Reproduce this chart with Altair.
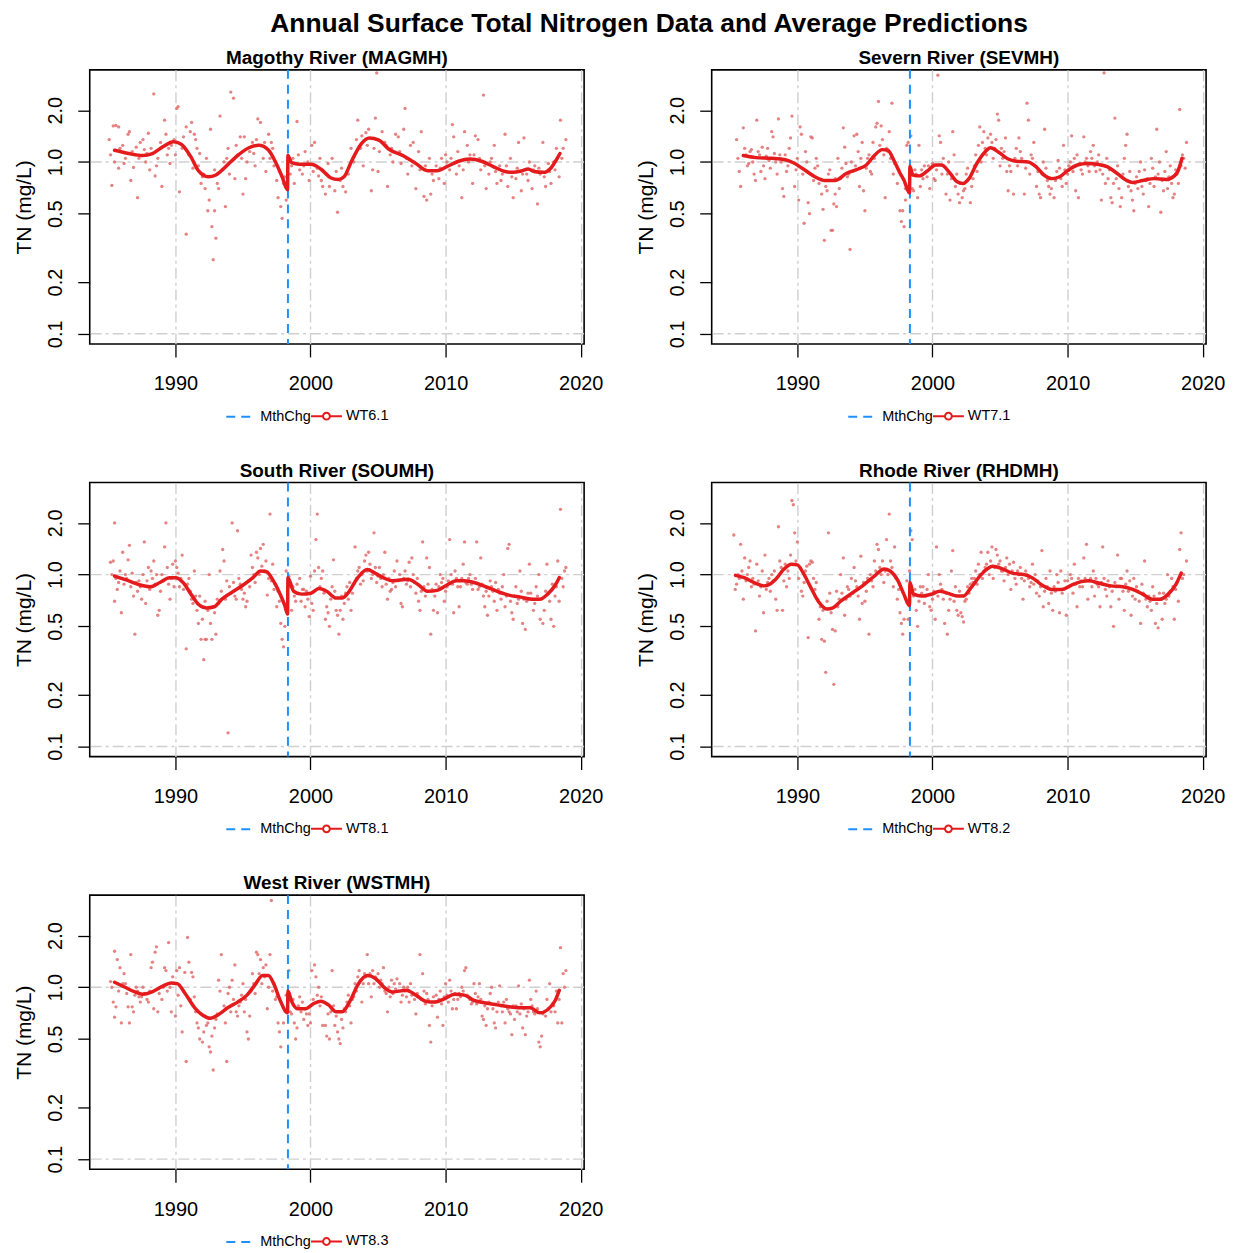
import altair as alt
import pandas as pd

FONT = "Liberation Sans"

MAIN_TITLE = "Annual Surface Total Nitrogen Data and Average Predictions"
PANEL_TITLES = ["Magothy River (MAGMH)", "Severn River (SEVMH)", "South River (SOUMH)",
                "Rhode River (RHDMH)", "West River (WSTMH)"]
WT_LABELS = ["WT6.1", "WT7.1", "WT8.1", "WT8.2", "WT8.3"]
MTH_LABEL = "MthChg"
METHOD_CHANGE_YEAR = [1998.33]
X_TICKS = [1990, 2000, 2010, 2020]
Y_TICKS = [0.1, 0.2, 0.5, 1.0, 2.0]
Y_REF_LINES = [0.1, 1.0]
X_DOMAIN = [1983.66, 2020.25]
Y_DOMAIN = [0.0873, 3.437]

# ---------------- observed data (year, TN mg/L) ----------------
MAG_POINTS = [
    (1985.1, 1.35), (1985.3, 0.73), (1985.4, 1.62), (1985.6, 1.63), (1985.8, 1.6), (1985.5, 1.0), (1985.8, 0.92),
    (1986.1, 1.25), (1986.3, 1.05), (1986.5, 1.45), (1986.6, 1.5), (1986.7, 0.78), (1986.9, 0.93), (1987.1, 1.22),
    (1987.2, 0.62), (1987.4, 1.3), (1987.6, 1.35), (1987.8, 1.0), (1987.9, 1.12), (1988.0, 1.47), (1988.1, 0.9),
    (1988.2, 1.2), (1988.4, 2.49), (1988.5, 0.83), (1988.7, 1.05), (1988.9, 1.3), (1989.0, 0.72), (1989.2, 1.75),
    (1989.4, 1.1), (1989.5, 1.2), (1989.7, 1.25), (1989.9, 1.35), (1990.1, 2.05), (1990.2, 2.1), (1990.3, 0.67),
    (1990.5, 1.2), (1990.8, 1.6), (1990.8, 0.38), (1991.1, 1.5), (1991.2, 1.7), (1991.4, 1.45), (1991.5, 1.35),
    (1991.6, 1.2), (1991.7, 0.95), (1991.9, 0.75), (1992.0, 0.82), (1992.2, 0.7), (1992.3, 1.05), (1992.4, 0.52),
    (1992.5, 0.6), (1992.6, 1.55), (1992.7, 0.42), (1992.8, 0.27), (1992.9, 0.52), (1993.0, 0.36), (1993.1, 0.75),
    (1993.3, 1.85), (1993.5, 0.9), (1993.7, 0.55), (1993.8, 1.05), (1993.9, 1.2), (1994.1, 2.55), (1994.3, 2.35),
    (1994.4, 0.8), (1994.6, 1.1), (1994.8, 1.4), (1995.0, 0.65), (1995.2, 0.8), (1995.3, 1.0), (1995.5, 1.15),
    (1995.7, 1.3), (1995.9, 0.95), (1996.1, 1.78), (1996.3, 1.7), (1996.5, 1.05), (1996.7, 0.88), (1996.9, 1.45),
    (1997.1, 1.3), (1997.3, 0.95), (1997.5, 0.78), (1997.6, 0.62), (1997.8, 0.55), (1997.9, 0.47), (1998.0, 0.75),
    (1998.2, 0.6), (1998.5, 0.85), (1998.6, 0.95), (1998.8, 0.75), (1999.0, 1.72), (1999.2, 0.9), (1999.4, 0.85),
    (1999.6, 1.15), (1999.8, 1.0), (1999.9, 0.78), (2000.1, 1.25), (2000.3, 1.3), (2000.5, 0.92), (2000.6, 0.83),
    (2000.8, 0.78), (2000.9, 0.72), (2001.1, 0.65), (2001.3, 0.98), (2001.4, 0.72), (2001.6, 1.05), (2001.8, 0.68),
    (2002.0, 0.51), (2002.2, 0.78), (2002.3, 0.92), (2002.6, 0.67), (2002.8, 0.85), (2003.0, 1.2), (2003.2, 1.0),
    (2003.5, 1.75), (2003.7, 1.2), (2003.9, 0.95), (2004.1, 1.48), (2004.3, 1.55), (2004.5, 0.68), (2004.6, 0.9),
    (2004.8, 1.8), (2004.9, 3.3), (2005.0, 0.88), (2005.3, 1.5), (2005.5, 1.3), (2005.7, 0.72), (2005.9, 1.1),
    (2006.1, 1.0), (2006.3, 1.45), (2006.5, 1.4), (2006.7, 0.98), (2006.9, 1.55), (2007.0, 2.05), (2007.2, 0.85),
    (2007.4, 1.25), (2007.6, 1.3), (2007.8, 0.7), (2008.0, 1.15), (2008.2, 1.5), (2008.4, 0.63), (2008.6, 0.6),
    (2008.8, 1.05), (2008.9, 0.65), (2009.1, 0.78), (2009.3, 0.95), (2009.5, 0.8), (2009.7, 1.05), (2009.9, 0.75),
    (2010.1, 1.0), (2010.3, 0.9), (2010.5, 1.65), (2010.6, 1.4), (2010.8, 0.85), (2011.0, 0.95), (2011.2, 0.62),
    (2011.4, 1.5), (2011.6, 1.25), (2011.8, 1.1), (2012.0, 0.75), (2012.2, 1.42), (2012.4, 1.35), (2012.6, 0.9),
    (2012.8, 2.45), (2013.0, 0.7), (2013.2, 0.85), (2013.4, 1.05), (2013.6, 1.25), (2013.8, 0.75), (2014.0, 0.95),
    (2014.2, 0.85), (2014.4, 1.45), (2014.6, 0.72), (2014.8, 1.05), (2015.0, 0.62), (2015.2, 0.8), (2015.4, 1.3),
    (2015.6, 0.68), (2015.8, 1.38), (2016.0, 0.85), (2016.2, 1.0), (2016.4, 0.7), (2016.6, 0.95), (2016.8, 0.57),
    (2017.0, 0.85), (2017.2, 1.3), (2017.4, 0.72), (2017.6, 0.98), (2017.8, 0.75), (2018.0, 1.0), (2018.2, 1.2),
    (2018.4, 0.82), (2018.5, 1.75), (2018.7, 1.2), (2018.9, 1.35),
]
MAG_POINTS_EXTRA = [
    (1985.2, 1.1), (1985.9, 1.2), (1986.2, 0.98), (1986.8, 1.15), (1987.3, 1.05), (1987.7, 1.18), (1988.6, 0.95),
    (1989.3, 1.45), (1989.6, 0.98), (1990.0, 1.1), (1990.6, 1.4), (1991.0, 1.1), (1991.3, 0.92), (1991.8, 1.12),
    (1992.1, 0.85), (1992.9, 0.9), (1993.2, 0.7), (1993.6, 1.0), (1994.0, 0.85), (1994.5, 1.25), (1994.9, 1.05),
    (1995.1, 1.4), (1995.8, 1.12), (1996.0, 1.35), (1996.6, 1.3), (1997.0, 1.05), (1997.2, 1.2), (1997.7, 0.88),
    (1998.1, 0.82), (1998.7, 1.05), (1999.1, 1.1), (1999.5, 0.95), (2000.2, 0.88), (2000.7, 1.05), (2001.2, 0.85),
    (2001.9, 0.88), (2002.4, 0.72), (2002.9, 0.95), (2003.4, 1.35), (2003.8, 1.42), (2004.2, 1.25), (2004.7, 1.2),
    (2005.1, 1.15), (2005.6, 1.25), (2006.0, 1.2), (2006.6, 1.15), (2007.1, 1.05), (2007.5, 0.95), (2008.1, 0.9),
    (2008.5, 0.95), (2009.0, 0.85), (2009.6, 0.92), (2010.0, 1.1), (2010.4, 1.05), (2010.9, 1.15), (2011.3, 0.9),
    (2011.7, 1.0), (2012.1, 1.1), (2012.5, 1.05), (2012.9, 0.95), (2013.3, 1.0), (2013.7, 0.88), (2014.1, 0.78),
    (2014.5, 0.95), (2014.9, 0.82), (2015.3, 0.92), (2015.7, 0.85), (2016.1, 0.78), (2016.5, 0.9), (2016.9, 0.92),
    (2017.3, 0.82), (2017.7, 0.88), (2018.1, 0.9), (2018.6, 1.05),
]

SEV_POINTS = [
    (1985.5, 1.35), (1985.7, 0.88), (1985.8, 0.72), (1986.0, 1.58), (1986.2, 1.1), (1986.3, 0.95), (1986.5, 1.15),
    (1986.6, 1.18), (1986.8, 0.85), (1986.9, 0.78), (1987.0, 1.75), (1987.1, 1.15), (1987.3, 0.88), (1987.4, 1.22),
    (1987.6, 0.8), (1987.7, 1.08), (1987.9, 1.02), (1988.0, 0.92), (1988.1, 1.5), (1988.2, 1.4), (1988.4, 1.0),
    (1988.5, 0.85), (1988.6, 1.78), (1988.7, 1.1), (1988.9, 0.7), (1989.0, 0.63), (1989.1, 1.1), (1989.3, 0.95),
    (1989.5, 1.38), (1989.6, 1.85), (1989.8, 0.72), (1990.0, 1.05), (1990.1, 0.6), (1990.2, 1.6), (1990.3, 1.45),
    (1990.5, 0.44), (1990.7, 1.0), (1990.8, 0.58), (1990.9, 0.5), (1991.0, 1.4), (1991.1, 1.38), (1991.3, 0.92),
    (1991.4, 1.05), (1991.6, 0.75), (1991.8, 0.65), (1991.9, 0.53), (1992.0, 0.35), (1992.1, 0.72), (1992.3, 0.85),
    (1992.4, 0.9), (1992.5, 0.4), (1992.6, 0.4), (1992.7, 0.57), (1992.8, 0.65), (1992.9, 0.55), (1993.0, 1.05),
    (1993.2, 0.8), (1993.4, 1.58), (1993.5, 1.22), (1993.7, 0.82), (1993.8, 0.85), (1993.9, 0.31), (1994.0, 1.0),
    (1994.2, 1.42), (1994.4, 1.45), (1994.5, 1.15), (1994.6, 0.72), (1994.8, 1.3), (1994.9, 0.68), (1995.0, 0.52),
    (1995.2, 1.05), (1995.4, 0.88), (1995.5, 0.85), (1995.6, 1.3), (1995.8, 1.6), (1995.9, 1.68), (1996.0, 2.25),
    (1996.2, 1.62), (1996.4, 1.1), (1996.5, 0.62), (1996.7, 1.15), (1996.8, 1.5), (1997.0, 2.2), (1997.2, 0.98),
    (1997.4, 0.75), (1997.6, 0.52), (1997.7, 0.45), (1997.8, 0.52), (1997.9, 0.42), (1998.0, 0.7), (1998.1, 1.25),
    (1998.2, 1.3), (1998.4, 1.42), (1998.5, 0.7), (1998.6, 0.68), (1998.8, 0.85), (1998.9, 0.62), (1999.0, 1.25),
    (1999.2, 0.9), (1999.4, 0.95), (1999.6, 0.82), (1999.8, 0.7), (2000.0, 0.98), (2000.1, 0.8), (2000.2, 0.78),
    (2000.4, 3.2), (2000.5, 1.42), (2000.6, 1.3), (2000.8, 1.05), (2001.0, 0.65), (2001.1, 0.85), (2001.3, 0.6),
    (2001.5, 1.5), (2001.6, 1.1), (2001.7, 0.72), (2001.9, 0.65), (2002.0, 0.58), (2002.2, 0.62), (2002.3, 0.68),
    (2002.5, 0.85), (2002.6, 0.92), (2002.8, 0.58), (2003.0, 0.8), (2003.2, 1.1), (2003.4, 1.25), (2003.5, 1.6),
    (2003.6, 1.0), (2003.8, 1.5), (2003.9, 1.2), (2004.1, 1.38), (2004.3, 1.45), (2004.4, 1.3), (2004.6, 1.2),
    (2004.8, 1.9), (2004.9, 1.75), (2005.0, 0.95), (2005.2, 1.05), (2005.4, 1.38), (2005.5, 0.88), (2005.6, 0.68),
    (2005.8, 0.88), (2006.0, 0.65), (2006.2, 1.2), (2006.4, 1.38), (2006.6, 1.05), (2006.8, 0.65), (2007.0, 2.2),
    (2007.1, 1.75), (2007.2, 0.85), (2007.4, 1.05), (2007.5, 1.3), (2007.7, 0.72), (2007.9, 0.65), (2008.0, 0.62),
    (2008.2, 1.0), (2008.3, 1.55), (2008.5, 0.78), (2008.7, 0.65), (2008.8, 0.7), (2009.0, 0.62), (2009.2, 0.88),
    (2009.3, 1.02), (2009.5, 0.8), (2009.7, 1.25), (2009.9, 0.75), (2010.0, 0.85), (2010.2, 1.0), (2010.3, 1.42),
    (2010.5, 1.05), (2010.6, 0.68), (2010.8, 0.62), (2011.0, 0.9), (2011.2, 1.4), (2011.4, 1.05), (2011.5, 0.95),
    (2011.7, 1.15), (2011.9, 1.25), (2012.1, 0.88), (2012.3, 1.1), (2012.5, 0.6), (2012.7, 3.3), (2012.8, 0.75),
    (2013.0, 0.8), (2013.2, 0.62), (2013.3, 0.58), (2013.5, 1.8), (2013.7, 0.95), (2013.9, 0.55), (2014.0, 0.62),
    (2014.2, 1.05), (2014.3, 1.25), (2014.4, 1.45), (2014.6, 0.88), (2014.8, 0.6), (2014.9, 0.52), (2015.0, 0.75),
    (2015.2, 0.7), (2015.4, 1.0), (2015.6, 0.65), (2015.8, 0.78), (2016.0, 0.55), (2016.2, 1.05), (2016.4, 0.72),
    (2016.6, 1.55), (2016.7, 0.85), (2016.9, 0.51), (2017.1, 0.68), (2017.3, 1.15), (2017.4, 0.7), (2017.6, 0.95),
    (2017.8, 0.62), (2017.9, 0.65), (2018.1, 0.85), (2018.3, 2.02), (2018.4, 0.95), (2018.6, 1.05), (2018.8, 1.3),
]
SEV_POINTS_EXTRA = [
    (1985.6, 1.05), (1986.1, 1.2), (1986.4, 0.98), (1986.7, 1.0), (1987.2, 1.1), (1987.5, 0.95), (1987.8, 1.2),
    (1988.3, 1.12), (1988.8, 1.0), (1989.2, 0.88), (1989.4, 1.2), (1989.9, 0.9), (1990.4, 0.85), (1990.6, 1.15),
    (1991.2, 0.78), (1991.5, 0.95), (1992.2, 0.68), (1992.8, 0.8), (1993.1, 0.7), (1993.3, 0.92), (1993.6, 0.98),
    (1994.1, 0.88), (1994.3, 0.95), (1994.7, 1.05), (1995.1, 0.92), (1995.3, 1.1), (1995.7, 1.05), (1996.1, 1.25),
    (1996.3, 1.35), (1996.6, 1.2), (1996.9, 1.05), (1997.1, 0.85), (1997.5, 0.9), (1998.0, 0.6), (1998.7, 0.9),
    (1999.1, 0.72), (1999.3, 0.8), (1999.7, 0.95), (2000.3, 0.9), (2000.7, 0.85), (2001.2, 1.0), (2001.4, 0.8),
    (2001.8, 0.85), (2002.1, 0.75), (2002.4, 0.7), (2002.9, 0.72), (2003.1, 0.95), (2003.3, 0.88), (2003.7, 1.3),
    (2004.0, 1.1), (2004.5, 1.05), (2004.7, 1.35), (2005.1, 1.2), (2005.3, 1.15), (2005.7, 0.95), (2006.1, 1.05),
    (2006.3, 0.95), (2006.5, 1.15), (2006.9, 0.92), (2007.3, 1.1), (2007.6, 0.95), (2007.8, 0.88), (2008.1, 0.85),
    (2008.4, 0.92), (2008.6, 0.72), (2009.1, 0.78), (2009.4, 0.92), (2009.6, 0.72), (2009.8, 0.9), (2010.1, 0.95),
    (2010.4, 0.88), (2010.7, 1.1), (2010.9, 0.98), (2011.1, 0.85), (2011.3, 1.0), (2011.6, 0.88), (2011.8, 1.05),
    (2012.0, 0.95), (2012.2, 1.0), (2012.4, 0.9), (2012.6, 0.85), (2012.9, 1.05), (2013.1, 0.9), (2013.4, 0.75),
    (2013.6, 0.8), (2013.8, 0.7), (2014.1, 0.85), (2014.5, 0.72), (2014.7, 0.68), (2015.1, 0.82), (2015.3, 0.88),
    (2015.5, 0.72), (2015.7, 0.9), (2015.9, 0.8), (2016.1, 0.75), (2016.3, 0.92), (2016.5, 0.82), (2016.8, 1.0),
    (2017.0, 0.78), (2017.2, 0.88), (2017.5, 0.82), (2017.7, 0.75), (2018.0, 0.9), (2018.2, 0.75), (2018.5, 1.1),
    (2018.7, 0.92),
]

SOU_POINTS = [
    (1985.2, 1.18), (1985.4, 1.2), (1985.5, 2.0), (1985.5, 0.7), (1985.6, 0.95), (1985.7, 0.82), (1985.8, 0.9),
    (1986.0, 0.6), (1986.1, 1.35), (1986.3, 1.0), (1986.5, 1.22), (1986.6, 1.48), (1986.7, 0.85), (1986.9, 0.75),
    (1987.0, 0.45), (1987.2, 0.8), (1987.3, 0.92), (1987.5, 0.72), (1987.6, 1.0), (1987.7, 1.55), (1987.8, 0.68),
    (1988.0, 1.1), (1988.1, 0.82), (1988.2, 1.05), (1988.4, 1.2), (1988.5, 0.88), (1988.7, 0.58), (1988.8, 0.62),
    (1989.0, 1.0), (1989.2, 1.45), (1989.3, 2.0), (1989.5, 0.88), (1989.6, 0.72), (1989.8, 1.15), (1990.0, 1.2),
    (1990.1, 1.1), (1990.3, 0.85), (1990.5, 1.3), (1990.8, 0.37), (1991.0, 0.95), (1991.2, 0.72), (1991.4, 1.05),
    (1991.5, 0.75), (1991.6, 0.62), (1991.7, 0.52), (1991.9, 0.42), (1992.0, 0.55), (1992.1, 0.32), (1992.2, 0.42),
    (1992.3, 0.42), (1992.4, 0.62), (1992.5, 1.0), (1992.6, 0.52), (1992.7, 0.42), (1992.8, 0.65), (1993.0, 0.45),
    (1993.1, 0.72), (1993.3, 1.05), (1993.5, 1.4), (1993.6, 1.2), (1993.8, 0.92), (1993.9, 0.12), (1994.0, 0.85),
    (1994.2, 2.0), (1994.4, 0.75), (1994.6, 1.8), (1994.8, 0.88), (1995.0, 0.72), (1995.2, 0.65), (1995.3, 0.7),
    (1995.5, 0.85), (1995.6, 1.3), (1995.8, 1.0), (1996.0, 1.35), (1996.1, 1.25), (1996.3, 1.42), (1996.5, 1.5),
    (1996.6, 1.05), (1996.8, 0.76), (1997.0, 2.25), (1997.2, 1.15), (1997.4, 0.88), (1997.6, 0.8), (1997.8, 0.52),
    (1997.9, 0.42), (1998.0, 0.38), (1998.1, 0.5), (1998.2, 1.05), (1998.4, 0.98), (1998.5, 0.85), (1998.6, 0.62),
    (1998.8, 0.75), (1999.0, 0.88), (1999.2, 0.95), (1999.3, 0.7), (1999.5, 0.82), (1999.6, 0.65), (1999.8, 0.72),
    (1999.9, 0.57), (2000.0, 0.98), (2000.1, 0.68), (2000.2, 0.62), (2000.3, 1.05), (2000.4, 1.6), (2000.5, 2.25),
    (2000.6, 1.1), (2000.8, 0.95), (2000.9, 1.05), (2001.1, 0.55), (2001.2, 0.65), (2001.3, 0.6), (2001.4, 0.5),
    (2001.6, 0.85), (2001.7, 1.22), (2001.9, 0.62), (2002.0, 0.58), (2002.1, 0.45), (2002.2, 0.62), (2002.4, 0.55),
    (2002.6, 0.78), (2002.8, 0.72), (2003.0, 0.62), (2003.2, 0.88), (2003.3, 1.45), (2003.5, 1.05), (2003.7, 0.88),
    (2003.9, 0.92), (2004.0, 1.2), (2004.1, 1.3), (2004.3, 1.35), (2004.5, 0.95), (2004.7, 1.75), (2004.9, 0.9),
    (2005.1, 1.1), (2005.3, 0.85), (2005.5, 1.35), (2005.7, 0.72), (2005.9, 0.8), (2006.0, 0.82), (2006.2, 1.05),
    (2006.4, 1.2), (2006.5, 0.92), (2006.7, 0.68), (2006.8, 0.65), (2007.0, 1.05), (2007.1, 0.88), (2007.3, 1.18),
    (2007.5, 1.25), (2007.6, 1.0), (2007.8, 0.78), (2008.0, 0.7), (2008.1, 0.62), (2008.3, 1.55), (2008.4, 0.85),
    (2008.6, 1.25), (2008.8, 1.1), (2008.9, 0.45), (2009.1, 0.62), (2009.3, 0.88), (2009.4, 0.6), (2009.6, 1.0),
    (2009.8, 0.95), (2009.9, 0.7), (2010.1, 0.85), (2010.3, 1.6), (2010.4, 1.0), (2010.6, 0.6), (2010.8, 0.95),
    (2011.0, 0.65), (2011.1, 0.85), (2011.3, 1.15), (2011.4, 1.55), (2011.6, 0.88), (2011.8, 1.0), (2012.0, 0.82),
    (2012.2, 0.95), (2012.3, 1.55), (2012.5, 0.85), (2012.6, 1.25), (2012.8, 0.75), (2012.9, 0.65), (2013.1, 0.58),
    (2013.3, 0.92), (2013.4, 0.85), (2013.6, 0.7), (2013.8, 0.62), (2013.9, 0.82), (2014.1, 0.72), (2014.3, 1.0),
    (2014.4, 0.65), (2014.6, 1.42), (2014.7, 1.5), (2014.9, 0.6), (2015.0, 0.55), (2015.2, 0.85), (2015.4, 0.72),
    (2015.5, 1.05), (2015.7, 0.52), (2015.9, 0.48), (2016.0, 0.7), (2016.2, 1.15), (2016.3, 0.78), (2016.5, 0.62),
    (2016.7, 0.85), (2016.9, 1.0), (2017.0, 0.55), (2017.2, 0.52), (2017.3, 0.62), (2017.5, 1.15), (2017.6, 0.78),
    (2017.8, 0.55), (2018.0, 0.5), (2018.2, 0.85), (2018.3, 1.2), (2018.4, 0.7), (2018.5, 2.4), (2018.7, 0.85),
    (2018.8, 1.05), (2018.9, 1.1),
]
SOU_POINTS_EXTRA = [
    (1985.3, 1.0), (1985.9, 1.05), (1986.2, 0.88), (1986.4, 0.95), (1986.8, 1.02), (1987.1, 0.9), (1987.4, 0.85),
    (1987.9, 0.92), (1988.3, 0.95), (1988.6, 1.0), (1988.9, 0.8), (1989.1, 0.92), (1989.4, 1.1), (1989.7, 0.95),
    (1989.9, 0.85), (1990.2, 1.02), (1990.4, 0.95), (1990.6, 0.82), (1990.9, 0.88), (1991.1, 0.8), (1991.3, 0.68),
    (1991.8, 0.75), (1992.2, 0.7), (1992.9, 0.6), (1993.2, 0.68), (1993.4, 0.8), (1993.7, 0.72), (1994.1, 0.78),
    (1994.3, 0.9), (1994.5, 0.72), (1994.7, 0.95), (1994.9, 0.82), (1995.1, 0.78), (1995.4, 0.92), (1995.7, 1.1),
    (1995.9, 0.9), (1996.2, 1.0), (1996.4, 1.12), (1996.7, 1.2), (1996.9, 0.95), (1997.1, 0.92), (1997.3, 0.82),
    (1997.5, 0.65), (1997.7, 0.7), (1998.7, 0.85), (1998.9, 0.7), (1999.1, 0.78), (1999.4, 0.82), (1999.7, 0.8),
    (2000.7, 0.85), (2001.0, 0.78), (2001.5, 0.72), (2001.8, 0.8), (2002.3, 0.75), (2002.5, 0.68), (2002.7, 0.85),
    (2002.9, 0.9), (2003.1, 0.78), (2003.4, 0.95), (2003.6, 1.1), (2003.8, 1.0), (2004.2, 1.05), (2004.4, 1.15),
    (2004.6, 1.0), (2004.8, 1.1), (2005.0, 0.98), (2005.2, 0.95), (2005.4, 1.0), (2005.6, 0.88), (2005.8, 0.95),
    (2006.1, 0.9), (2006.3, 0.85), (2006.6, 1.0), (2006.9, 0.95), (2007.2, 0.92), (2007.4, 0.85), (2007.7, 0.9),
    (2007.9, 0.95), (2008.2, 0.8), (2008.5, 0.75), (2008.7, 0.88), (2009.0, 0.82), (2009.2, 0.75), (2009.5, 0.85),
    (2009.7, 0.9), (2010.0, 0.8), (2010.2, 0.92), (2010.5, 0.88), (2010.7, 1.05), (2010.9, 0.85), (2011.2, 0.95),
    (2011.5, 0.9), (2011.7, 0.95), (2011.9, 0.88), (2012.1, 0.9), (2012.4, 0.82), (2012.7, 0.88), (2013.0, 0.8),
    (2013.2, 0.75), (2013.5, 0.8), (2013.7, 0.9), (2014.0, 0.78), (2014.2, 0.85), (2014.5, 0.75), (2014.8, 0.7),
    (2015.1, 0.75), (2015.3, 0.68), (2015.6, 0.8), (2015.8, 0.72), (2016.1, 0.78), (2016.4, 0.72), (2016.6, 0.68),
    (2016.8, 0.75), (2017.1, 0.72), (2017.4, 0.8), (2017.7, 0.7), (2017.9, 0.88), (2018.1, 0.75), (2018.6, 0.95),
]

RHD_POINTS = [
    (1985.3, 1.7), (1985.4, 0.82), (1985.5, 0.88), (1985.6, 1.0), (1985.8, 1.5), (1985.9, 1.05), (1986.0, 0.72),
    (1986.1, 1.25), (1986.3, 1.0), (1986.5, 1.2), (1986.6, 0.85), (1986.7, 0.95), (1986.9, 0.47), (1987.0, 1.15),
    (1987.2, 0.75), (1987.4, 1.05), (1987.5, 0.6), (1987.6, 1.3), (1987.7, 0.82), (1987.9, 0.95), (1988.0, 0.8),
    (1988.2, 0.92), (1988.3, 1.05), (1988.4, 0.72), (1988.5, 0.62), (1988.6, 1.9), (1988.7, 1.2), (1988.8, 1.1),
    (1988.9, 0.62), (1989.0, 0.92), (1989.2, 0.85), (1989.3, 1.05), (1989.5, 1.3), (1989.6, 2.7), (1989.7, 2.55),
    (1989.8, 1.75), (1990.0, 1.55), (1990.1, 0.95), (1990.3, 0.8), (1990.4, 0.75), (1990.6, 1.05), (1990.8, 0.43),
    (1990.9, 1.15), (1991.0, 1.2), (1991.1, 1.18), (1991.3, 0.82), (1991.4, 0.9), (1991.6, 0.55), (1991.7, 0.65),
    (1991.8, 0.42), (1992.0, 0.41), (1992.1, 0.27), (1992.3, 1.75), (1992.4, 0.78), (1992.5, 0.6), (1992.6, 0.48),
    (1992.7, 0.23), (1992.8, 0.47), (1992.9, 0.8), (1993.1, 0.72), (1993.2, 1.0), (1993.4, 1.25), (1993.5, 0.58),
    (1993.7, 0.85), (1993.9, 0.75), (1994.0, 0.95), (1994.2, 1.1), (1994.4, 0.85), (1994.6, 0.55), (1994.7, 1.28),
    (1994.8, 0.68), (1995.0, 0.7), (1995.1, 0.8), (1995.3, 0.45), (1995.4, 1.0), (1995.5, 0.92), (1995.7, 1.2),
    (1995.9, 1.5), (1996.0, 1.4), (1996.2, 1.0), (1996.4, 0.9), (1996.6, 1.6), (1996.8, 2.25), (1997.0, 1.1),
    (1997.1, 0.85), (1997.2, 1.45), (1997.4, 0.72), (1997.6, 0.6), (1997.7, 0.52), (1997.8, 0.45), (1997.9, 0.55),
    (1998.1, 0.92), (1998.2, 0.55), (1998.3, 1.05), (1998.4, 1.8), (1998.5, 1.6), (1998.6, 0.75), (1998.8, 0.62),
    (1998.9, 0.5), (1999.1, 0.85), (1999.3, 0.85), (1999.5, 0.75), (1999.7, 1.0), (1999.8, 0.65), (1999.9, 0.62),
    (2000.0, 0.72), (2000.2, 0.55), (2000.3, 1.45), (2000.5, 1.0), (2000.6, 0.88), (2000.8, 0.72), (2000.9, 0.52),
    (2001.1, 0.45), (2001.2, 0.62), (2001.4, 1.05), (2001.5, 1.38), (2001.7, 0.85), (2001.8, 0.62), (2001.9, 0.58),
    (2002.1, 0.6), (2002.2, 0.57), (2002.3, 0.53), (2002.5, 0.72), (2002.7, 0.78), (2002.9, 0.95), (2003.0, 0.9),
    (2003.2, 1.05), (2003.4, 1.15), (2003.6, 1.35), (2003.7, 0.95), (2003.9, 1.1), (2004.1, 1.35), (2004.2, 1.0),
    (2004.4, 1.45), (2004.5, 0.95), (2004.7, 1.4), (2004.8, 1.3), (2005.0, 1.2), (2005.2, 1.05), (2005.3, 0.92),
    (2005.5, 1.25), (2005.7, 1.15), (2005.8, 0.82), (2006.0, 1.18), (2006.2, 0.88), (2006.3, 1.05), (2006.5, 1.1),
    (2006.7, 0.72), (2006.8, 0.92), (2007.0, 1.0), (2007.2, 0.85), (2007.4, 1.15), (2007.6, 1.0), (2007.7, 0.78),
    (2007.9, 0.75), (2008.1, 1.38), (2008.2, 0.65), (2008.4, 0.95), (2008.6, 0.68), (2008.7, 1.05), (2008.9, 0.62),
    (2009.0, 0.85), (2009.2, 1.0), (2009.4, 0.6), (2009.5, 1.05), (2009.7, 0.82), (2009.9, 0.58), (2010.0, 0.92),
    (2010.2, 1.0), (2010.4, 0.78), (2010.5, 1.15), (2010.7, 0.65), (2010.9, 0.85), (2011.0, 0.92), (2011.2, 1.25),
    (2011.4, 1.5), (2011.5, 0.72), (2011.7, 0.95), (2011.9, 1.05), (2012.0, 0.75), (2012.2, 0.88), (2012.4, 0.65),
    (2012.6, 1.45), (2012.7, 0.95), (2012.9, 0.75), (2013.1, 0.85), (2013.2, 0.65), (2013.4, 0.5), (2013.5, 0.9),
    (2013.7, 1.3), (2013.8, 0.72), (2014.0, 0.95), (2014.2, 0.62), (2014.4, 1.05), (2014.5, 0.8), (2014.7, 0.58),
    (2014.9, 0.95), (2015.0, 0.72), (2015.2, 0.8), (2015.4, 0.52), (2015.5, 0.88), (2015.7, 1.2), (2015.9, 0.65),
    (2016.0, 0.75), (2016.2, 0.62), (2016.3, 0.85), (2016.5, 0.52), (2016.7, 0.49), (2016.8, 0.78), (2017.0, 0.55),
    (2017.2, 0.68), (2017.4, 1.0), (2017.5, 0.75), (2017.7, 0.95), (2017.9, 0.55), (2018.0, 0.82), (2018.2, 0.7),
    (2018.3, 1.4), (2018.4, 1.75), (2018.6, 1.0), (2018.8, 1.2),
]
RHD_POINTS_EXTRA = [
    (1985.7, 0.95), (1986.2, 0.92), (1986.4, 1.1), (1986.8, 0.88), (1987.1, 0.92), (1987.3, 0.85), (1987.8, 0.9),
    (1988.1, 1.0), (1989.1, 1.15), (1989.4, 0.95), (1989.9, 1.2), (1990.2, 1.1), (1990.5, 0.9), (1990.7, 1.12),
    (1991.2, 0.95), (1991.5, 0.72), (1991.9, 0.62), (1992.2, 0.7), (1993.0, 0.65), (1993.3, 0.78), (1993.6, 0.72),
    (1993.8, 0.82), (1994.1, 0.78), (1994.3, 0.92), (1994.5, 0.75), (1994.9, 0.9), (1995.2, 0.95), (1995.6, 0.85),
    (1995.8, 1.05), (1996.1, 1.1), (1996.3, 1.2), (1996.5, 1.05), (1996.7, 1.0), (1996.9, 1.2), (1997.3, 0.95),
    (1997.5, 0.82), (1998.7, 0.82), (1999.0, 0.7), (1999.2, 0.78), (1999.4, 0.68), (1999.6, 0.82), (2000.1, 0.8),
    (2000.4, 0.75), (2000.7, 0.82), (2001.0, 0.78), (2001.3, 0.72), (2001.6, 0.7), (2002.0, 0.8), (2002.4, 0.7),
    (2002.6, 0.85), (2002.8, 0.88), (2003.1, 0.95), (2003.3, 0.88), (2003.5, 1.0), (2003.8, 1.05), (2004.0, 1.15),
    (2004.3, 1.2), (2004.6, 1.1), (2004.9, 1.15), (2005.1, 1.05), (2005.4, 1.1), (2005.6, 1.0), (2005.9, 1.05),
    (2006.1, 0.95), (2006.4, 1.0), (2006.6, 0.95), (2006.9, 1.05), (2007.1, 0.95), (2007.3, 0.9), (2007.5, 0.88),
    (2007.8, 0.92), (2008.0, 0.85), (2008.3, 0.8), (2008.5, 0.85), (2008.8, 0.78), (2009.1, 0.8), (2009.3, 0.9),
    (2009.6, 0.78), (2009.8, 0.92), (2010.1, 0.85), (2010.3, 0.95), (2010.6, 0.88), (2010.8, 0.95), (2011.1, 0.85),
    (2011.3, 0.95), (2011.6, 0.92), (2011.8, 0.85), (2012.1, 0.95), (2012.3, 0.85), (2012.5, 0.9), (2012.8, 0.82),
    (2013.0, 0.92), (2013.3, 0.8), (2013.6, 0.85), (2013.9, 0.95), (2014.1, 0.8), (2014.3, 0.88), (2014.6, 0.92),
    (2014.8, 0.75), (2015.1, 0.85), (2015.3, 0.7), (2015.6, 0.78), (2015.8, 0.72), (2016.1, 0.7), (2016.4, 0.75),
    (2016.6, 0.68), (2016.9, 0.72), (2017.1, 0.78), (2017.3, 0.72), (2017.6, 0.8), (2017.8, 0.85), (2018.1, 0.9),
    (2018.5, 0.95),
]

WST_POINTS = [
    (1985.2, 1.08), (1985.4, 0.82), (1985.5, 1.62), (1985.5, 0.67), (1985.6, 0.77), (1985.7, 1.45), (1985.9, 1.3),
    (1986.0, 0.62), (1986.2, 1.2), (1986.3, 1.05), (1986.5, 0.77), (1986.6, 0.62), (1986.7, 1.55), (1986.8, 0.77),
    (1986.9, 0.72), (1987.1, 1.0), (1987.3, 0.88), (1987.4, 0.82), (1987.6, 1.0), (1987.8, 0.92), (1988.0, 0.82),
    (1988.1, 0.95), (1988.2, 1.3), (1988.3, 1.4), (1988.4, 0.75), (1988.5, 1.6), (1988.6, 1.72), (1988.7, 0.72),
    (1988.9, 1.0), (1989.0, 0.85), (1989.2, 1.3), (1989.3, 1.25), (1989.5, 1.82), (1989.6, 1.0), (1989.7, 0.72),
    (1989.8, 1.15), (1990.0, 0.68), (1990.1, 1.25), (1990.2, 0.9), (1990.3, 1.3), (1990.4, 0.78), (1990.5, 0.55),
    (1990.7, 1.22), (1990.8, 0.37), (1990.9, 1.95), (1991.0, 1.4), (1991.2, 1.22), (1991.3, 1.15), (1991.4, 0.88),
    (1991.6, 0.62), (1991.7, 0.58), (1991.8, 0.5), (1992.0, 0.48), (1992.1, 0.55), (1992.2, 0.68), (1992.3, 0.6),
    (1992.5, 0.45), (1992.6, 0.42), (1992.7, 0.52), (1992.8, 0.33), (1992.9, 0.58), (1993.1, 0.7), (1993.2, 1.1),
    (1993.3, 0.95), (1993.4, 1.55), (1993.5, 0.72), (1993.7, 0.62), (1993.8, 0.37), (1993.9, 0.92), (1994.0, 1.0),
    (1994.2, 1.1), (1994.4, 1.35), (1994.5, 0.72), (1994.6, 0.68), (1994.8, 0.82), (1995.0, 1.05), (1995.1, 0.72),
    (1995.3, 0.55), (1995.4, 0.5), (1995.5, 0.68), (1995.7, 1.2), (1995.9, 0.92), (1996.0, 1.6), (1996.1, 1.55),
    (1996.3, 1.45), (1996.5, 1.3), (1996.7, 1.35), (1996.8, 0.75), (1997.0, 1.55), (1997.1, 3.2), (1997.3, 1.05),
    (1997.5, 0.88), (1997.6, 0.62), (1997.7, 0.55), (1997.8, 0.45), (1998.0, 0.62), (1998.2, 0.9), (1998.4, 1.25),
    (1998.5, 0.72), (1998.6, 0.7), (1998.8, 0.62), (1998.9, 0.5), (1999.0, 0.58), (1999.2, 0.88), (1999.3, 0.72),
    (1999.5, 0.65), (1999.7, 0.7), (1999.8, 0.6), (2000.0, 0.62), (2000.1, 1.25), (2000.3, 1.35), (2000.4, 1.15),
    (2000.6, 1.0), (2000.8, 0.88), (2000.9, 0.6), (2001.1, 0.6), (2001.2, 0.52), (2001.4, 0.5), (2001.5, 0.72),
    (2001.6, 1.25), (2001.8, 0.6), (2002.0, 0.55), (2002.1, 0.5), (2002.2, 0.47), (2002.4, 0.58), (2002.6, 0.72),
    (2002.8, 0.9), (2003.0, 0.62), (2003.2, 0.88), (2003.3, 1.05), (2003.5, 1.15), (2003.6, 1.25), (2003.8, 0.82),
    (2004.0, 1.2), (2004.2, 1.55), (2004.3, 1.05), (2004.5, 0.88), (2004.6, 1.25), (2004.8, 1.15), (2005.0, 1.2),
    (2005.2, 1.1), (2005.4, 1.3), (2005.6, 0.92), (2005.7, 0.72), (2005.9, 0.88), (2006.0, 1.1), (2006.2, 1.05),
    (2006.4, 1.12), (2006.5, 0.95), (2006.7, 0.82), (2006.9, 1.0), (2007.1, 0.88), (2007.3, 0.82), (2007.4, 1.05),
    (2007.6, 0.92), (2007.8, 0.7), (2008.0, 0.88), (2008.1, 1.55), (2008.3, 1.2), (2008.4, 0.95), (2008.6, 0.92),
    (2008.8, 0.6), (2008.9, 0.48), (2009.1, 0.88), (2009.3, 0.9), (2009.4, 0.67), (2009.6, 0.95), (2009.8, 0.6),
    (2010.0, 1.05), (2010.1, 0.9), (2010.3, 1.1), (2010.5, 0.75), (2010.6, 0.85), (2010.8, 0.75), (2011.0, 0.92),
    (2011.2, 1.0), (2011.4, 1.25), (2011.5, 1.3), (2011.7, 0.88), (2011.9, 0.8), (2012.1, 1.05), (2012.2, 0.92),
    (2012.4, 0.88), (2012.5, 1.05), (2012.7, 0.68), (2012.8, 0.65), (2013.0, 0.6), (2013.1, 0.75), (2013.3, 0.92),
    (2013.4, 1.0), (2013.6, 0.62), (2013.7, 0.58), (2013.9, 0.82), (2014.0, 1.02), (2014.2, 0.72), (2014.4, 0.62),
    (2014.5, 0.85), (2014.7, 0.72), (2014.9, 0.53), (2015.1, 0.65), (2015.2, 0.78), (2015.4, 1.02), (2015.5, 0.7),
    (2015.7, 0.58), (2015.9, 0.53), (2016.0, 0.68), (2016.2, 1.1), (2016.3, 0.85), (2016.5, 0.72), (2016.7, 0.95),
    (2016.9, 0.48), (2017.0, 0.45), (2017.1, 0.52), (2017.3, 0.72), (2017.5, 0.85), (2017.7, 1.05), (2017.8, 0.72),
    (2018.0, 0.78), (2018.2, 0.95), (2018.3, 0.62), (2018.5, 1.7), (2018.6, 0.62), (2018.7, 1.2), (2018.9, 1.25),
]
WST_POINTS_EXTRA = [
    (1985.3, 1.0), (1985.8, 0.95), (1986.1, 1.05), (1986.4, 0.92), (1987.0, 0.9), (1987.2, 0.95), (1987.5, 0.88),
    (1987.7, 0.92), (1987.9, 0.85), (1988.8, 0.92), (1989.1, 1.0), (1989.4, 0.95), (1989.9, 1.05), (1990.6, 0.95),
    (1991.1, 0.85), (1991.5, 0.72), (1991.9, 0.7), (1992.4, 0.62), (1993.0, 0.65), (1993.6, 0.78), (1994.1, 0.72),
    (1994.3, 0.85), (1994.7, 0.78), (1994.9, 0.9), (1995.2, 0.85), (1995.6, 0.95), (1995.8, 1.05), (1996.2, 1.2),
    (1996.4, 1.05), (1996.6, 1.15), (1996.9, 1.0), (1997.2, 0.95), (1997.4, 0.85), (1998.7, 0.85), (1999.1, 0.78),
    (1999.4, 0.82), (1999.6, 0.75), (1999.9, 0.7), (2000.2, 0.85), (2000.5, 0.9), (2000.7, 0.78), (2001.0, 0.82),
    (2001.3, 0.7), (2001.7, 0.78), (2001.9, 0.68), (2002.3, 0.65), (2002.5, 0.75), (2002.7, 0.82), (2002.9, 0.78),
    (2003.1, 0.85), (2003.4, 0.95), (2003.7, 1.1), (2003.9, 1.05), (2004.1, 1.15), (2004.4, 1.2), (2004.7, 1.05),
    (2004.9, 1.1), (2005.1, 1.0), (2005.3, 1.05), (2005.5, 0.95), (2005.8, 1.0), (2006.1, 0.92), (2006.3, 0.98),
    (2006.6, 1.05), (2006.8, 0.9), (2007.0, 0.95), (2007.2, 1.0), (2007.5, 0.9), (2007.7, 0.85), (2007.9, 0.92),
    (2008.2, 0.85), (2008.5, 0.8), (2008.7, 0.85), (2009.0, 0.78), (2009.2, 0.82), (2009.5, 0.85), (2009.7, 0.8),
    (2009.9, 0.88), (2010.2, 0.82), (2010.4, 0.95), (2010.7, 0.92), (2010.9, 0.85), (2011.1, 0.88), (2011.3, 0.95),
    (2011.6, 0.9), (2011.8, 0.85), (2012.0, 0.82), (2012.3, 0.8), (2012.6, 0.85), (2012.9, 0.78), (2013.2, 0.82),
    (2013.5, 0.75), (2013.8, 0.72), (2014.1, 0.78), (2014.3, 0.82), (2014.6, 0.75), (2014.8, 0.7), (2015.0, 0.78),
    (2015.3, 0.72), (2015.6, 0.8), (2015.8, 0.75), (2016.1, 0.72), (2016.4, 0.78), (2016.6, 0.7), (2016.8, 0.75),
    (2017.2, 0.7), (2017.4, 0.68), (2017.6, 0.75), (2017.9, 0.8), (2018.1, 0.72), (2018.4, 0.85), (2018.8, 1.0),
]

# ---------------- average predictions (year, TN mg/L) ----------------
MAG_LINE = [
    (1985.5, 1.17), (1986.55, 1.12), (1987.56, 1.09), (1988.3, 1.12), (1989.1, 1.23), (1989.86, 1.31), (1990.43, 1.27),
    (1991.15, 1.07), (1991.7, 0.89), (1992.44, 0.82), (1993.0, 0.84), (1993.73, 0.94), (1994.6, 1.09), (1995.45, 1.21),
    (1996.17, 1.25), (1996.9, 1.17), (1997.46, 0.98), (1997.9, 0.82), (1998.3, 0.69), (1998.33, 1.09), (1998.6, 0.99),
    (1999.18, 0.97), (2000.04, 0.97), (2000.76, 0.91), (2001.48, 0.81), (2002.05, 0.79), (2002.48, 0.82), (2003.06, 1.02),
    (2003.77, 1.28), (2004.35, 1.38), (2005.06, 1.34), (2005.78, 1.19), (2006.93, 1.08), (2007.8, 0.98), (2008.65, 0.89),
    (2009.37, 0.89), (2010.09, 0.94), (2010.95, 1.01), (2011.8, 1.04), (2012.67, 1.01), (2013.53, 0.94), (2014.39, 0.88),
    (2014.96, 0.87), (2015.68, 0.89), (2016.11, 0.91), (2016.54, 0.88), (2017.26, 0.87), (2017.78, 0.92), (2018.26, 1.05),
    (2018.46, 1.12),
]
SEV_LINE = [
    (1986.0, 1.09), (1986.93, 1.06), (1988.1, 1.05), (1989.1, 1.03), (1989.7, 0.99), (1990.44, 0.91), (1991.3, 0.82),
    (1992.04, 0.78), (1992.77, 0.78), (1993.65, 0.86), (1994.5, 0.91), (1995.1, 0.96), (1995.7, 1.09), (1996.28, 1.18),
    (1996.7, 1.17), (1997.15, 1.02), (1997.6, 0.86), (1997.9, 0.78), (1998.3, 0.66), (1998.33, 0.94), (1998.55, 0.84),
    (1999.05, 0.83), (1999.65, 0.89), (2000.23, 0.96), (2000.66, 0.96), (2001.25, 0.87), (2001.8, 0.77), (2002.26, 0.75),
    (2002.7, 0.80), (2003.28, 0.98), (2003.87, 1.14), (2004.3, 1.21), (2004.9, 1.14), (2005.6, 1.04), (2006.2, 1.01),
    (2007.08, 1.0), (2007.66, 0.94), (2008.25, 0.84), (2008.83, 0.80), (2009.42, 0.82), (2010.0, 0.89), (2010.73, 0.96),
    (2011.46, 0.98), (2012.19, 0.97), (2012.92, 0.94), (2013.65, 0.86), (2014.38, 0.78), (2014.82, 0.76), (2015.55, 0.78),
    (2016.42, 0.80), (2017.3, 0.79), (2017.9, 0.83), (2018.18, 0.89), (2018.47, 1.05),
]
SOU_LINE = [
    (1985.5, 0.98), (1986.56, 0.92), (1987.4, 0.87), (1988.13, 0.85), (1988.85, 0.90), (1989.57, 0.96), (1990.0, 0.96),
    (1990.57, 0.90), (1991.15, 0.77), (1991.72, 0.67), (1992.3, 0.64), (1992.87, 0.65), (1993.44, 0.72), (1994.3, 0.80),
    (1995.02, 0.87), (1995.74, 0.96), (1996.31, 1.05), (1996.74, 1.04), (1997.32, 0.90), (1997.75, 0.77), (1998.1, 0.66),
    (1998.3, 0.59), (1998.33, 0.96), (1998.75, 0.80), (1999.33, 0.77), (2000.04, 0.78), (2000.62, 0.83), (2001.2, 0.80),
    (2001.9, 0.73), (2002.34, 0.73), (2002.77, 0.78), (2003.5, 0.96), (2004.2, 1.07), (2004.78, 1.02), (2005.5, 0.95),
    (2006.07, 0.92), (2007.22, 0.94), (2007.93, 0.88), (2008.65, 0.80), (2009.37, 0.81), (2010.09, 0.87), (2010.8, 0.92),
    (2011.38, 0.92), (2012.1, 0.90), (2012.96, 0.85), (2013.82, 0.80), (2014.68, 0.76), (2015.54, 0.74), (2016.4, 0.72),
    (2016.97, 0.72), (2017.55, 0.77), (2018.12, 0.87), (2018.41, 0.96),
]
RHD_LINE = [
    (1985.42, 0.99), (1986.06, 0.96), (1986.79, 0.90), (1987.52, 0.86), (1987.96, 0.88), (1988.4, 0.94), (1988.98, 1.07),
    (1989.56, 1.15), (1990.0, 1.14), (1990.44, 1.02), (1991.0, 0.84), (1991.6, 0.69), (1992.19, 0.63), (1992.63, 0.64),
    (1993.2, 0.70), (1993.94, 0.77), (1994.82, 0.86), (1995.7, 0.98), (1996.42, 1.08), (1996.86, 1.05), (1997.45, 0.92),
    (1997.88, 0.77), (1998.3, 0.66), (1998.33, 0.90), (1998.6, 0.77), (1999.2, 0.75), (1999.94, 0.77), (2000.53, 0.80),
    (2001.11, 0.78), (2001.84, 0.75), (2002.28, 0.75), (2002.86, 0.84), (2003.6, 1.0), (2004.45, 1.12), (2005.18, 1.08),
    (2005.9, 1.02), (2006.79, 1.0), (2007.37, 0.96), (2008.1, 0.87), (2008.83, 0.82), (2009.56, 0.82), (2010.3, 0.87),
    (2011.02, 0.91), (2011.6, 0.92), (2012.34, 0.89), (2013.2, 0.86), (2014.09, 0.85), (2014.82, 0.82), (2015.55, 0.77),
    (2016.28, 0.72), (2016.86, 0.72), (2017.45, 0.77), (2018.03, 0.88), (2018.41, 1.02),
]
WST_LINE = [
    (1985.5, 1.07), (1986.27, 1.0), (1987.0, 0.94), (1987.56, 0.91), (1988.28, 0.94), (1989.0, 1.01), (1989.7, 1.06),
    (1990.14, 1.05), (1990.72, 0.92), (1991.43, 0.76), (1992.0, 0.69), (1992.58, 0.66), (1993.15, 0.69), (1993.87, 0.76),
    (1994.6, 0.82), (1995.3, 0.90), (1995.88, 1.03), (1996.45, 1.17), (1996.88, 1.17), (1997.32, 1.03), (1997.75, 0.84),
    (1998.3, 0.71), (1998.33, 0.95), (1998.6, 0.83), (1999.04, 0.75), (1999.62, 0.75), (2000.2, 0.80), (2000.76, 0.83),
    (2001.33, 0.79), (2001.9, 0.72), (2002.34, 0.72), (2002.92, 0.83), (2003.49, 1.03), (2004.2, 1.17), (2004.78, 1.13),
    (2005.5, 0.99), (2006.07, 0.94), (2007.07, 0.96), (2007.8, 0.90), (2008.5, 0.83), (2009.22, 0.82), (2009.94, 0.86),
    (2010.66, 0.91), (2011.38, 0.90), (2012.1, 0.84), (2012.96, 0.81), (2013.82, 0.79), (2014.68, 0.77), (2015.54, 0.76),
    (2016.26, 0.76), (2016.97, 0.71), (2017.55, 0.74), (2018.12, 0.84), (2018.41, 0.96),
]

ALL_POINTS = [MAG_POINTS + MAG_POINTS_EXTRA, SEV_POINTS + SEV_POINTS_EXTRA,
              SOU_POINTS + SOU_POINTS_EXTRA, RHD_POINTS + RHD_POINTS_EXTRA,
              WST_POINTS + WST_POINTS_EXTRA]
ALL_LINES = [MAG_LINE, SEV_LINE, SOU_LINE, RHD_LINE, WST_LINE]

# ---------------- styling ----------------
RED = "#E41A1C"
DOT = "#E06C6C"
BLUE = "#1E90FF"
GRID = "#CFCFCF"
GRID_DASH = [11, 4, 3, 4]
W, H = 496, 275

WT_SYMBOL = ("M-1,0H-0.22M0.22,0H1"
             "M-0.22,0A0.22,0.22 0 1,0 0.22,0A0.22,0.22 0 1,0 -0.22,0Z")

x_axis = alt.Axis(values=X_TICKS, format="d", title=None, grid=True, gridColor=GRID,
                  gridDash=GRID_DASH, gridWidth=1.4, domain=False, tickColor="black",
                  tickSize=13, tickWidth=1.3, labelFontSize=20, labelFont=FONT,
                  labelColor="black", labelPadding=17, labelFlush=False, labelOverlap=False)
y_axis = alt.Axis(values=Y_TICKS, format=".1f", title="TN (mg/L)", grid=False, domain=False,
                  tickColor="black", tickSize=12, tickWidth=1.3, labelFontSize=20,
                  labelFont=FONT, labelColor="black", labelAngle=-90, labelAlign="center",
                  labelBaseline="alphabetic", labelPadding=16, labelFlush=False,
                  labelOverlap=False, titleFontSize=21, titleFont=FONT,
                  titleFontWeight="normal", titleColor="black", titlePadding=11.5)

x_scale = alt.Scale(domain=X_DOMAIN, nice=False, zero=False)
y_scale = alt.Scale(type="log", domain=Y_DOMAIN, nice=False)


def panel(title, wt, pts, line):
    pdf = pd.DataFrame(pts, columns=["year", "tn"])
    ldf = pd.DataFrame(line, columns=["year", "tn"])
    ldf["wt"] = wt
    ldf["ord"] = range(len(ldf))
    gdf = pd.DataFrame({"tn": Y_REF_LINES})
    mdf = pd.DataFrame({"year": METHOD_CHANGE_YEAR, "mth": [MTH_LABEL]})

    X = alt.X("year:Q", scale=x_scale, axis=x_axis)
    Y = alt.Y("tn:Q", scale=y_scale, axis=y_axis)

    hgrid = alt.Chart(gdf).mark_rule(color=GRID, strokeDash=GRID_DASH, strokeWidth=1.4).encode(y=Y)
    dots = alt.Chart(pdf).mark_circle(size=11, color=DOT, opacity=0.85, clip=True).encode(x=X, y=Y)
    rule = alt.Chart(mdf).mark_rule(color=BLUE, strokeWidth=2).encode(
        x=X,
        strokeDash=alt.StrokeDash(
            "mth:N", scale=alt.Scale(domain=[MTH_LABEL], range=[[9, 6]]),
            legend=alt.Legend(title=None, orient="none", legendX=136, legendY=335,
                              direction="horizontal", symbolType="stroke", symbolSize=576,
                              symbolStrokeWidth=2, symbolStrokeColor=BLUE, labelFontSize=14.5,
                              labelFont=FONT, labelColor="black", labelOffset=9, padding=0)))
    smooth = alt.Chart(ldf).mark_line(strokeWidth=3.5, interpolate="monotone", clip=True,
                                      strokeCap="round", strokeJoin="round").encode(
        x=X, y=Y, order="ord:Q",
        color=alt.Color(
            "wt:N", scale=alt.Scale(domain=[wt], range=[RED]),
            legend=alt.Legend(title=None, orient="none", legendX=221, legendY=331,
                              direction="horizontal", symbolType=WT_SYMBOL, symbolSize=961,
                              symbolStrokeWidth=2, labelFontSize=14.5, labelFont=FONT,
                              labelColor="black", labelOffset=3, padding=0)))
    return alt.layer(hgrid, dots, rule, smooth).properties(
        width=W, height=H,
        title=alt.TitleParams(title, fontSize=19, fontWeight="bold", font=FONT, color="black",
                              anchor="middle", offset=1))


panels = [panel(t, w, p, l) for t, w, p, l in zip(PANEL_TITLES, WT_LABELS, ALL_POINTS, ALL_LINES)]

chart = alt.concat(
    *panels, columns=2, spacing={"row": 139, "column": 128}, bounds="flush",
    title=alt.TitleParams(MAIN_TITLE, fontSize=26.5, fontWeight="bold", font=FONT, color="black",
                          anchor="middle", offset=11, dx=30)
).resolve_scale(
    color="independent", strokeDash="independent"
).resolve_legend(
    color="independent", strokeDash="independent"
).configure_view(
    stroke="black", strokeWidth=1.6
).properties(
    padding={"left": 4, "top": 0, "right": 5, "bottom": 5}, background="white"
)

chart.save("out.html", embed_options={"renderer": "svg", "actions": False})
